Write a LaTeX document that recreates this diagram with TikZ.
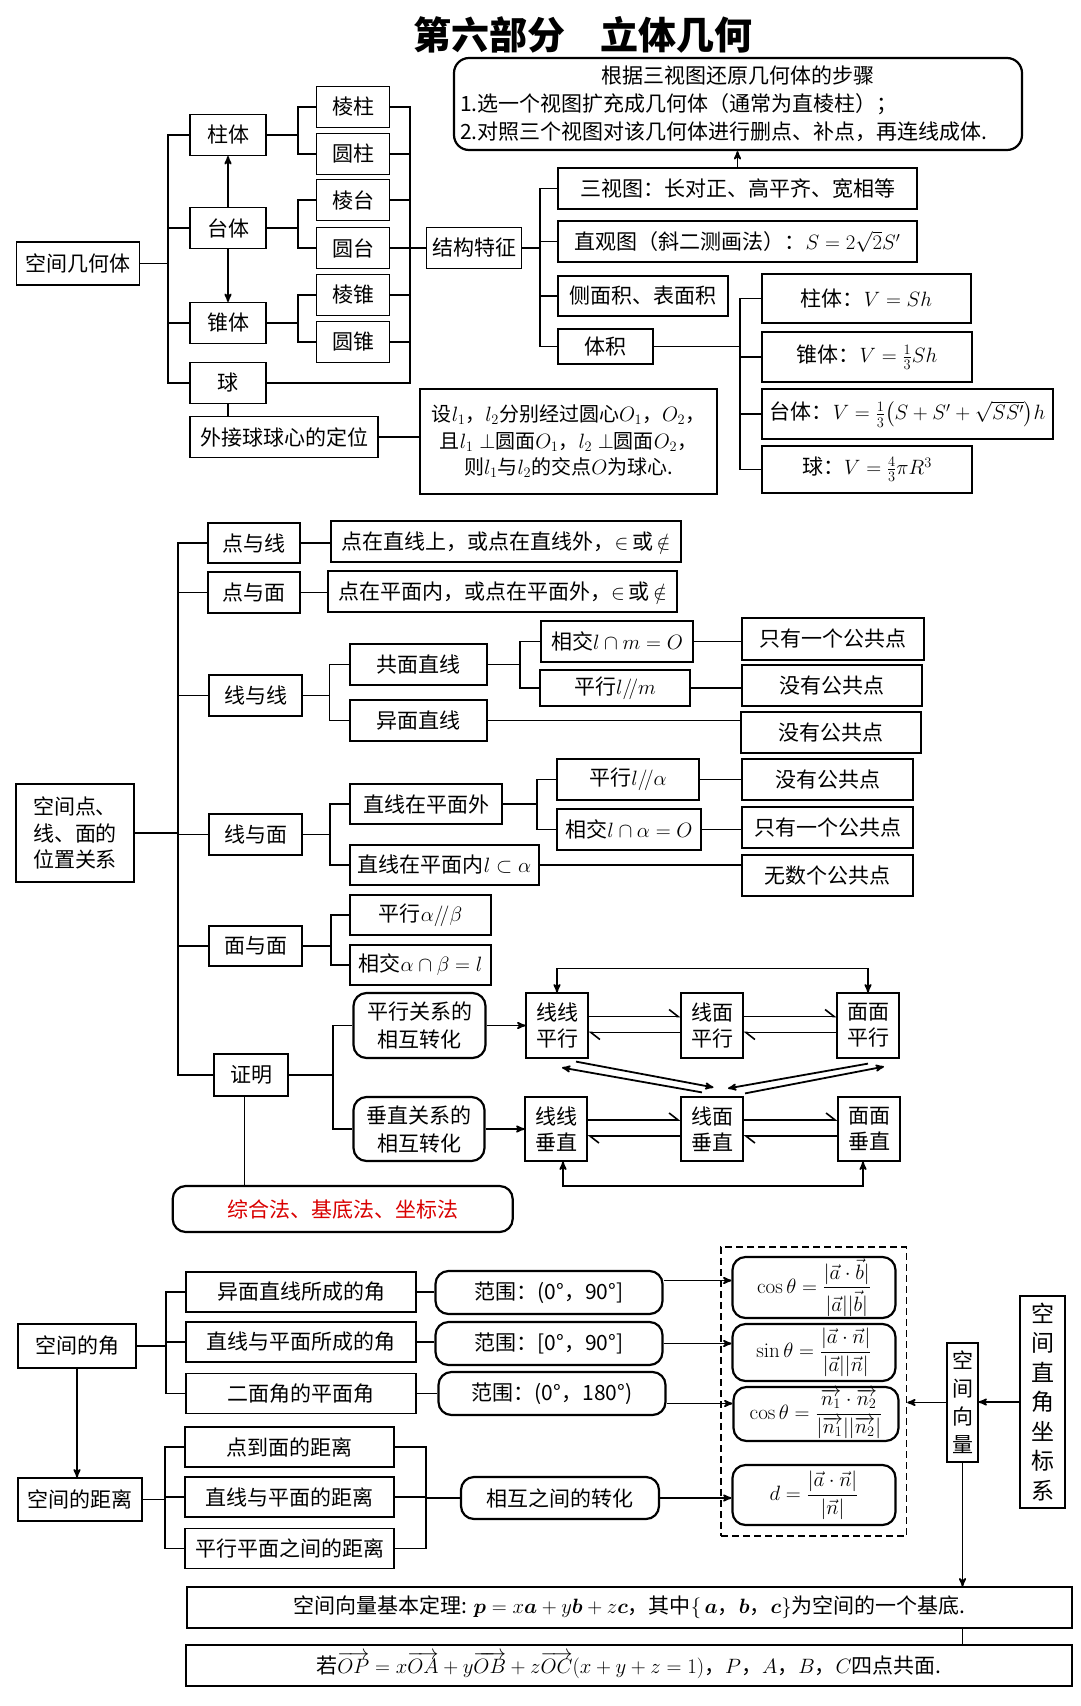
\documentclass[tikz,border=0pt]{standalone}
\usepackage{amsmath}
\usepackage{amssymb}
\usepackage{fontspec}
\newfontfamily\cjk{Noto Sans CJK SC}
\usetikzlibrary{arrows,arrows.meta}

\newcommand{\wen}{\cjk\fontsize{21}{26}\selectfont}

\tikzset{
  box/.style={draw, line width=1.2pt, inner sep=0pt, align=center, font=\wen},
  rbox/.style={box, rounded corners=13pt, line width=2.2pt},
  wh/.style 2 args={minimum width=#1pt, minimum height=#2pt},
  link/.style={line width=1.8pt},
  hp/.style={line width=1.6pt, -{Straight Barb[harpoon,length=9pt,width=14pt]}}
}

\begin{document}
\begin{tikzpicture}[x=1pt,y=-1pt,>=stealth',semithick]
\fill[white] (0,0) rectangle (1080,1706);
\useasboundingbox (0,0) rectangle (1080,1706);

\node (title) at (583,35) {\cjk\bfseries\fontsize{38}{40}\selectfont 第六部分\hspace{36pt}立体几何};

% ---------- part 1
\node[rbox,wh={568}{92},align=left,rounded corners=15pt,font=\cjk\fontsize{21}{28}\selectfont] (steps) at (738,104)
  {\makebox[556pt]{根据三视图还原几何体的步骤}\\1.选一个视图扩充成几何体（通常为直棱柱）；\\2.对照三个视图对该几何体进行删点、补点，再连线成体.};

\node[box,wh={123}{43}] (kj)   at (78,263.5) {空间几何体};
\node[box,wh={76}{41}]  (zt)   at (228,135)  {柱体};
\node[box,wh={76}{41}]  (tt)   at (228,228)  {台体};
\node[box,wh={76}{41}]  (zhui) at (228,323)  {锥体};
\node[box,wh={76}{41}]  (qiu)  at (228,383)  {球};
\node[box,wh={188}{41}] (wj)   at (284,437)  {外接球球心的定位};

\node[box,wh={73}{41}] (lz)  at (353,107) {棱柱};
\node[box,wh={73}{41}] (yz)  at (353,154) {圆柱};
\node[box,wh={73}{41}] (lt)  at (353,200) {棱台};
\node[box,wh={73}{41}] (yt)  at (353,248) {圆台};
\node[box,wh={73}{41}] (lzh) at (353,295) {棱锥};
\node[box,wh={73}{41}] (yzh) at (353,342) {圆锥};

\node[box,wh={95}{41}]  (jg)  at (474,248)     {结构特征};
\node[box,wh={359}{41}] (sst) at (737.5,188.5) {三视图：长对正、高平齐、宽相等};
\node[box,wh={359}{41}] (zgt) at (737.5,241.5) {直观图（斜二测画法）：$S=2\sqrt{2}S'$};
\node[box,wh={170}{40}] (cmj) at (643,296)     {侧面积、表面积};
\node[box,wh={95}{35}]  (tj)  at (605.5,346.5) {体积};

\node[box,wh={209}{49}] (vz)  at (866.5,298.5) {柱体：$V=Sh$};
\node[box,wh={210}{50}] (vzh) at (867,357)     {锥体：$V=\frac{1}{3}Sh$};
\node[box,wh={291}{50}] (vt)  at (907.5,414)   {台体：$V=\frac{1}{3}\bigl(S+S'+\sqrt{SS'}\bigr)h$};
\node[box,wh={210}{47}] (vq)  at (867,469.5)   {球：$V=\frac{4}{3}\pi R^3$};

\node[box,wh={297}{105},font=\cjk\fontsize{20}{26.5}\selectfont] (desc) at (568.5,441.5)
  {设$l_1$，$l_2$分别经过圆心$O_1$，$O_2$，\\且$l_1\perp$圆面$O_1$，$l_2\perp$圆面$O_2$，\\则$l_1$与$l_2$的交点$O$为球心.};

\coordinate (b1) at (168,0);
\coordinate (b2) at (298,0);
\coordinate (b3) at (410,0);
\coordinate (b4) at (540,0);
\coordinate (b5) at (740,0);

\foreach \c in {zt,tt,zhui,qiu}
  \draw[link] (kj.east) -| (b1 |- \c.west) -- (\c.west);
\foreach \p/\a/\b in {zt/lz/yz, tt/lt/yt, zhui/lzh/yzh} {
  \draw[link] (\p.east) -| (b2 |- \a.west) -- (\a.west);
  \draw[link] (\p.east) -| (b2 |- \b.west) -- (\b.west);
}
\foreach \c in {lz,yz,lt,yt,lzh,yzh,qiu}
  \draw[link] (\c.east) -| (b3 |- jg.west) -- (jg.west);
\foreach \c in {sst,zgt,cmj,tj}
  \draw[link] (jg.east) -| (b4 |- \c.west) -- (\c.west);
\foreach \c in {vz,vzh,vt,vq}
  \draw[link] (tj.east) -| (b5 |- \c.west) -- (\c.west);

\draw[link,->] (tt.north) -- (zt.south);
\draw[link,->] (tt.south) -- (zhui.north);
\draw[link] (qiu.south) -- (qiu.south |- wj.north);
\draw[link] (wj.east) -- (wj.east -| desc.west);
\draw[link,->] (sst.north) -- (sst.north |- steps.south);

% ---------- part 2
\node[box,wh={118}{98},align=left,font=\cjk\fontsize{21}{26.7}\selectfont] (wz) at (75,833) {空间点、\\线、面的\\位置关系};
\node[box,wh={92}{40}] (dyx) at (254,543)   {点与线};
\node[box,wh={92}{41}] (dym) at (254,592.5) {点与面};
\node[box,wh={93}{41}] (xyx) at (255.5,695.5) {线与线};
\node[box,wh={93}{41}] (xym) at (255.5,834.5) {线与面};
\node[box,wh={93}{40}] (mym) at (255.5,946)   {面与面};
\node[box,wh={74}{42}] (zm)  at (251,1075)    {证明};

\node[box,wh={350}{41}] (dyx1) at (506,541.5)   {点在直线上，或点在直线外，$\in$\,或\,$\notin$};
\node[box,wh={349}{41}] (dym1) at (502.5,591.5) {点在平面内，或点在平面外，$\in$\,或\,$\notin$};

\node[box,wh={137}{41}] (gm)  at (418.5,664.5) {共面直线};
\node[box,wh={137}{41}] (ym)  at (418.5,720.5) {异面直线};
\node[box,wh={152}{41}] (xj1) at (617,641.5)   {相交$l\cap m=O$};
\node[box,wh={150}{36}] (px1) at (615,688)     {平行$l/\!/m$};
\node[box,wh={182}{42}] (gg1) at (833,639)     {只有一个公共点};
\node[box,wh={180}{41}] (wg1) at (832,685.5)   {没有公共点};
\node[box,wh={180}{41}] (wg2) at (831,732.5)   {没有公共点};

\node[box,wh={152}{40}] (zwai) at (426,804)     {直线在平面外};
\node[box,wh={189}{40}] (znei) at (444.5,865)   {直线在平面内$l\subset\alpha$};
\node[box,wh={142}{41}] (px2)  at (628,779.5)   {平行$l/\!/\alpha$};
\node[box,wh={144}{41}] (xj2)  at (629,829.5)   {相交$l\cap\alpha=O$};
\node[box,wh={171}{41}] (wg3)  at (827.5,779.5) {没有公共点};
\node[box,wh={171}{41}] (gg2)  at (827.5,827.5) {只有一个公共点};
\node[box,wh={171}{41}] (ws)   at (827.5,875.5) {无数个公共点};

\node[box,wh={141}{40}] (pxab) at (420.5,915) {平行$\alpha/\!/\beta$};
\node[box,wh={141}{40}] (xjab) at (420.5,965) {相交$\alpha\cap\beta=l$};

\node[rbox,wh={132}{65},font=\cjk\fontsize{21}{28}\selectfont] (pzh) at (419.5,1025.5) {平行关系的\\相互转化};
\node[rbox,wh={131}{64},font=\cjk\fontsize{21}{28}\selectfont] (czh) at (419,1129)    {垂直关系的\\相互转化};

\node[box,wh={62}{65}] (xxp) at (557,1025.5) {线线\\平行};
\node[box,wh={62}{65}] (xmp) at (712,1025.5) {线面\\平行};
\node[box,wh={62}{65}] (mmp) at (868,1025.5) {面面\\平行};
\node[box,wh={62}{64}] (xxc) at (556,1129)   {线线\\垂直};
\node[box,wh={62}{64}] (xmc) at (712,1129)   {线面\\垂直};
\node[box,wh={62}{64}] (mmc) at (869,1129)   {面面\\垂直};

\node[rbox,wh={340}{46},text=red!85!black] (zh) at (342.7,1209) {综合法、基底法、坐标法};

\coordinate (c1) at (178,0);
\coordinate (c2) at (329.5,0);
\coordinate (c3) at (520,0);
\coordinate (c4) at (330,0);
\coordinate (c5) at (537,0);
\coordinate (c6) at (331,0);
\coordinate (c7) at (333,0);

\foreach \c in {dyx,dym,xyx,xym,mym,zm}
  \draw[link] (wz.east) -| (c1 |- \c.west) -- (\c.west);
\draw[link] (dyx.east) -- (dyx.east -| dyx1.west);
\draw[link] (dym.east) -- (dym.east -| dym1.west);
\foreach \p/\c/\q in {xyx/gm/c2, xyx/ym/c2, gm/xj1/c3, gm/px1/c3, xym/zwai/c4, xym/znei/c4,
                      zwai/px2/c5, zwai/xj2/c5, mym/pxab/c6, mym/xjab/c6, zm/pzh/c7, zm/czh/c7}
  \draw[link] (\p.east) -| (\q |- \c.west) -- (\c.west);
\foreach \a/\b in {xj1/gg1, px1/wg1, ym/wg2, px2/wg3, xj2/gg2, znei/ws}
  \draw[link] (\a.east) -- (\a.east -| \b.west);

\draw[link,->] (pzh.east) -- (xxp.west);
\draw[link,->] (czh.east) -- (xxc.west);
\foreach \a/\b in {xxp/xmp, xmp/mmp, xxc/xmc, xmc/mmc} {
  \draw[hp] ([yshift=9pt]\a.east) -- ([yshift=9pt]\b.west);
  \draw[hp] ([yshift=-7pt]\b.west) -- ([yshift=-7pt]\a.east);
}
\draw[link,<->] (xxp.north) -- ++(0,-24) -| (mmp.north);
\draw[link,<->] ([xshift=7pt]xxc.south) -- ++(0,24) -| ([xshift=-6pt]mmc.south);
\draw[link,->] ([xshift=19pt,yshift=-3pt]xxp.south) -- ([xshift=1.5pt,yshift=9pt]xmc.north);
\draw[link,->] ([xshift=-10pt,yshift=4pt]xmc.north) -- ([xshift=5pt,yshift=-9pt]xxp.south);
\draw[link,->] ([yshift=-5pt]mmp.south) -- ([xshift=16pt,yshift=8pt]xmc.north);
\draw[link,->] ([xshift=33pt,yshift=3pt]xmc.north) -- ([xshift=16pt,yshift=-8pt]mmp.south);
\draw[line width=1pt] ([xshift=-7pt]zm.south) -- ([xshift=-7pt]zm.south |- zh.north);

% ---------- part 3
\node[box,wh={118}{44}] (jiao) at (77,1346)   {空间的角};
\node[box,wh={124}{43}] (juli) at (80,1499.5) {空间的距离};
\node[box,wh={230}{40}] (a1) at (301,1292)   {异面直线所成的角};
\node[box,wh={230}{40}] (a2) at (301,1342)   {直线与平面所成的角};
\node[box,wh={230}{40}] (a3) at (301,1393.5) {二面角的平面角};
\node[box,wh={209}{40}] (d1) at (289.5,1447)   {点到面的距离};
\node[box,wh={209}{40}] (d2) at (289.5,1497)   {直线与平面的距离};
\node[box,wh={209}{40}] (d3) at (289.5,1548.5) {平行平面之间的距离};

\node[rbox,wh={227}{43}] (f1) at (549,1292.5) {范围：(0°，90°]};
\node[rbox,wh={227}{43}] (f2) at (549,1343.5) {范围：[0°，90°]};
\node[rbox,wh={227}{43}] (f3) at (552,1393.5) {范围：(0°，180°)};
\node[rbox,wh={198}{42}] (hz) at (560,1498)   {相互之间的转化};

\node[draw,dash pattern=on 7pt off 4pt,line width=1.5pt,wh={185.5}{289}] (dbox) at (813.75,1391.5) {};
\node[rbox,wh={163}{61}] (cos1) at (814,1287.5) {$\cos\theta=\dfrac{|\vec a\cdot\vec b|}{|\vec a||\vec b|}$};
\node[rbox,wh={163}{57}] (sin)  at (814,1352.5) {$\sin\theta=\dfrac{|\vec a\cdot\vec n|}{|\vec a||\vec n|}$};
\node[rbox,wh={165}{54}] (cos2) at (816,1414)   {$\cos\theta=\dfrac{\overrightarrow{n_1}\cdot\overrightarrow{n_2}}{|\overrightarrow{n_1}||\overrightarrow{n_2}|}$};
\node[rbox,wh={163}{60}] (dd)   at (814,1495)   {$d=\dfrac{|\vec a\cdot\vec n|}{|\vec n|}$};

\node[box,wh={31}{119},font=\cjk\fontsize{21}{28}\selectfont] (kjxl) at (962.5,1402.5) {空\\间\\向\\量};
\node[box,wh={45}{212},font=\cjk\fontsize{23}{29.5}\selectfont] (zjzb) at (1042.5,1402) {空\\间\\直\\角\\坐\\标\\系};

\node[box,wh={885}{41}] (thm)  at (629.5,1607.5)
  {空间向量基本定理: $\boldsymbol{p}=x\boldsymbol{a}+y\boldsymbol{b}+z\boldsymbol{c}$，其中$\{\,\boldsymbol{a}$，$\boldsymbol{b}$，$\boldsymbol{c}\}$为空间的一个基底.};
\node[box,wh={886}{41}] (thm2) at (629,1665.5)
  {若$\overrightarrow{OP}=x\overrightarrow{OA}+y\overrightarrow{OB}+z\overrightarrow{OC}(x+y+z=1)$，$P$，$A$，$B$，$C$四点共面.};

\coordinate (e1) at (166,0);
\coordinate (e2) at (165,0);
\coordinate (e3) at (426,0);

\foreach \c in {a1,a2,a3}
  \draw[link] (jiao.east) -| (e1 |- \c.west) -- (\c.west);
\foreach \c in {d1,d2,d3}
  \draw[link] (juli.east) -| (e2 |- \c.west) -- (\c.west);
\foreach \c in {d1,d2,d3}
  \draw[link] (\c.east) -| (e3 |- hz.west) -- (hz.west);
\draw[link,->] (jiao.south) -- (jiao.south |- juli.north);
\foreach \a/\b in {a1/f1, a2/f2, a3/f3}
  \draw[link] (\a.east) -- (\a.east -| \b.west);

\draw[link,->] ([yshift=12pt]f1.east) -- ([yshift=12pt]f1.east -| cos1.west);
\draw[link,->] (f2.east) -- (f2.east -| sin.west);
\draw[link,->] ([yshift=-10pt]f3.east) -- ([yshift=-10pt]f3.east -| cos2.west);
\draw[link,->] (hz.east) -- (hz.east -| dd.west);
\draw[link,->] (zjzb.west) -- (zjzb.west -| kjxl.east);
\draw[link,->] (kjxl.west) -- (kjxl.west -| dbox.east);
\draw[link,->] (kjxl.south) -- (kjxl.south |- thm.north);
\draw[link] (thm.south -| kjxl) -- (thm2.north -| kjxl);

\end{tikzpicture}
\end{document}
